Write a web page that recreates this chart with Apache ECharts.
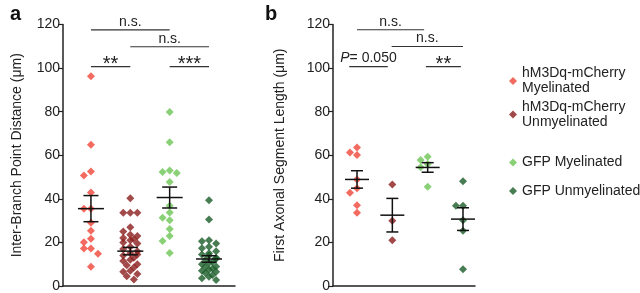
<!DOCTYPE html>
<html>
<head>
<meta charset="utf-8">
<script src="https://cdn.jsdelivr.net/npm/echarts@6/dist/echarts.min.js"></script>
<style>
html, body { margin: 0; padding: 0; background: #fff; }
#chart { width: 640px; height: 293px; }
</style>
</head>
<body>
<div id="chart"></div>
<script>
const groupNames = ['hM3Dq-mCherry\nMyelinated', 'hM3Dq-mCherry\nUnmyelinated', 'GFP Myelinated', 'GFP Unmyelinated']
const colors = ['#f0453a', '#8b1c1c', '#6dc455', '#1a5c28']

// panel a: inter-branch point distance (um)
const aRedMy = [96.2, 64.8, 52.6, 50.7, 42.9, 35.5, 35.5, 29.0, 25.3, 21.7, 20.1, 17.2, 17.2, 14.8, 8.8]
const aRedUn = [40.3, 33.6, 33.6, 33.6, 27.0, 25.0, 23.5, 23.0, 22.0, 21.5, 21.0, 20.0, 19.5, 18.0, 17.0,
  16.0, 15.0, 14.5, 14.0, 13.0, 12.0, 11.5, 10.0, 9.5, 8.5, 7.0, 6.5, 5.5, 4.5, 3.0]
const aGreenMy = [79.8, 66.0, 53.0, 52.3, 51.8, 47.7, 36.8, 33.7, 31.3, 30.2, 26.1, 23.0, 20.7, 15.2]
const aGreenUn = [39.4, 30.5, 21.0, 20.5, 19.5, 18.0, 17.3, 16.0, 15.0, 14.5, 14.0, 13.0, 12.5, 12.0,
  11.0, 10.5, 10.0, 9.0, 8.8, 8.0, 7.5, 7.0, 6.5, 6.0, 5.0, 4.3, 3.5, 2.7]
const aMean = [35.5, 16.0, 40.6, 12.4]
const aSem = [6.0, 1.7, 4.8, 1.5]
// [from group, to group, height, label]
const aSig = [[1, 3, 117.5, 'n.s.'], [2, 4, 109.8, 'n.s.'], [1, 2, 100.7, '**'], [3, 4, 100.7, '***']]

// panel b: first axonal segment length (um)
const bRedMy = [63.6, 61.3, 60.1, 48.9, 44.8, 42.8, 37.1, 33.6]
const bRedUn = [46.6, 29.9, 21.0]
const bGreenMy = [59.3, 57.8, 56.0, 54.5, 45.5]
const bGreenUn = [48.1, 36.8, 36.8, 30.2, 25.3, 7.7]
const bMean = [48.9, 32.5, 54.4, 30.7]
const bSem = [4.0, 7.7, 2.2, 5.2]
const bSig = [[1, 2.9, 117.6, 'n.s.'], [1.98, 4, 109.9, 'n.s.'], [0.78, 1.87, 100.7, '{i|P}= 0.050'], [2.95, 3.94, 100.7, '**']]

const font = 'Liberation Sans'

// spread points sideways so that close values do not sit on top of each other
function swarm(vals, g, step, th) {
  const placed = []
  const cycle = [0, -step, step, -step / 2, step / 2]
  return vals.map((v, n) => {
    let k = 0, off
    while (true) {
      off = k === 0 ? 0 : (k % 2 ? -1 : 1) * Math.ceil(k / 2) * step
      if (!placed.some(p => Math.abs(p[0] - off) < step * 0.9 && Math.abs(p[1] - v) < th)) break
      k++
      if (k > 2) { off = cycle[n % 5]; break }
    }
    placed.push([off, v])
    return [g + off, v]
  })
}

function scatter(vals, i, ax, step) {
  return {
    type: 'scatter', name: groupNames[i], xAxisIndex: ax, yAxisIndex: ax,
    symbol: 'diamond', symbolSize: 8,
    itemStyle: { color: colors[i] },
    data: swarm(vals, i + 1, step, 2.6)
  }
}

function errorBars(mean, sem, ax, half, cap) {
  return {
    type: 'custom', xAxisIndex: ax, yAxisIndex: ax, z: 5, silent: true,
    data: mean.map((m, i) => [i + 1, m, sem[i]]),
    renderItem(params, api) {
      const x = api.value(0), m = api.value(1), s = api.value(2)
      const c = api.coord([x, m]), hi = api.coord([x, m + s]), lo = api.coord([x, m - s])
      const st = { stroke: '#111', lineWidth: 1.5 }
      return { type: 'group', children: [
        { type: 'line', shape: { x1: c[0] - half, y1: c[1], x2: c[0] + half, y2: c[1] }, style: st },
        { type: 'line', shape: { x1: c[0], y1: hi[1], x2: c[0], y2: lo[1] }, style: st },
        { type: 'line', shape: { x1: c[0] - cap, y1: hi[1], x2: c[0] + cap, y2: hi[1] }, style: st },
        { type: 'line', shape: { x1: c[0] - cap, y1: lo[1], x2: c[0] + cap, y2: lo[1] }, style: st }
      ] }
    }
  }
}

function sigBars(sig, ax) {
  return {
    type: 'custom', xAxisIndex: ax, yAxisIndex: ax, silent: true,
    data: sig.map(s => [s[0], s[2], s[1]]),
    renderItem(params, api) {
      const p1 = api.coord([api.value(0), api.value(1)])
      const p2 = api.coord([api.value(2), api.value(1)])
      const label = sig[params.dataIndex][3]
      const stars = label.indexOf('*') === 0
      return { type: 'group', children: [
        { type: 'line', shape: { x1: p1[0], y1: p1[1], x2: p2[0], y2: p2[1] }, style: { stroke: '#333', lineWidth: 1.2 } },
        { type: 'text', style: {
          text: label, x: (p1[0] + p2[0]) / 2, y: stars ? p1[1] - 2 : p1[1] - 1,
          align: 'center', verticalAlign: stars ? 'middle' : 'bottom',
          fontSize: stars ? 20 : 14, fontFamily: font, fill: '#222',
          rich: { i: { fontStyle: 'italic', fontSize: 14, fontFamily: font } }
        } }
      ] }
    }
  }
}

function yAxis(name, gi, gap) {
  return {
    type: 'value', gridIndex: gi, min: 0, max: 120, interval: 20,
    name: name, nameLocation: 'middle', nameGap: gap,
    nameTextStyle: { fontSize: 14, fontFamily: font, color: '#222' },
    axisLine: { show: true, lineStyle: { color: '#222', width: 1.5 } },
    axisTick: { show: true, length: 5, lineStyle: { color: '#222', width: 1.2 } },
    axisLabel: { fontSize: 14, fontFamily: font, color: '#222', margin: 3 },
    splitLine: { show: false }
  }
}

function xAxis(gi, min, max) {
  return {
    type: 'value', gridIndex: gi, min: min, max: max,
    axisLine: { show: true, onZero: false, lineStyle: { color: '#222', width: 1.5 } },
    axisTick: { show: false }, axisLabel: { show: false }, splitLine: { show: false }
  }
}

const legendTops = [66, 99.5, 155, 183.5]

const option = {
  animation: false,
  title: [
    { text: 'a', left: 5, top: -1, textStyle: { fontSize: 20, fontWeight: 'bold', fontFamily: font, color: '#111' } },
    { text: 'b', left: 260, top: -1, textStyle: { fontSize: 20, fontWeight: 'bold', fontFamily: font, color: '#111' } }
  ],
  legend: groupNames.map((n, i) => ({
    data: [n], left: 509, top: legendTops[i], orient: 'vertical',
    icon: 'diamond', itemWidth: 8, itemHeight: 8, padding: 0,
    selectedMode: false,
    textStyle: { fontSize: 14, fontFamily: font, color: '#222', lineHeight: 15 }
  })),
  grid: [
    { left: 63, top: 24.5, width: 172, bottom: 7 },
    { left: 333, top: 24.5, width: 142, bottom: 7 }
  ],
  xAxis: [xAxis(0, 0.29, 4.66), xAxis(1, 0.32, 4.34)],
  yAxis: [
    yAxis('Inter-Branch Point Distance (μm)', 0, 39),
    yAxis('First Axonal Segment Length (μm)', 1, 46)
  ],
  series: [
    scatter(aRedMy, 0, 0, 0.18),
    scatter(aRedUn, 1, 0, 0.18),
    scatter(aGreenMy, 2, 0, 0.18),
    scatter(aGreenUn, 3, 0, 0.18),
    scatter(bRedMy, 0, 1, 0.2),
    scatter(bRedUn, 1, 1, 0.2),
    scatter(bGreenMy, 2, 1, 0.2),
    scatter(bGreenUn, 3, 1, 0.2),
    errorBars(aMean, aSem, 0, 13, 7.5),
    errorBars(bMean, bSem, 1, 12, 6),
    sigBars(aSig, 0),
    sigBars(bSig, 1)
  ]
}

const chart = echarts.init(document.getElementById('chart'))
chart.setOption(option)
</script>
</body>
</html>
